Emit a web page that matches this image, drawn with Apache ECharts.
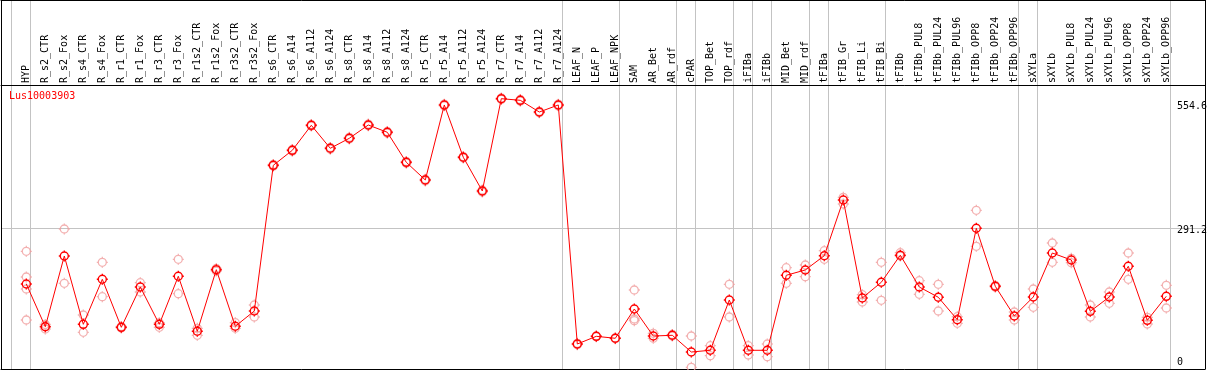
<!DOCTYPE html>
<html>
<head>
<meta charset="utf-8">
<script src="https://cdn.jsdelivr.net/npm/echarts@6/dist/echarts.min.js"></script>
<style>
  html, body { margin: 0; padding: 0; background: #fff; }
  #chart { width: 1209px; height: 370px; }
</style>
</head>
<body>
<div id="chart"></div>
<script>
// ---------------- data ----------------
const geneName = 'Lus10003903';

const categories = [
  'HYP', 'R_s2_CTR', 'R_s2_Fox', 'R_s4_CTR', 'R_s4_Fox', 'R_r1_CTR', 'R_r1_Fox', 'R_r3_CTR', 'R_r3_Fox',
  'R_r1s2_CTR', 'R_r1s2_Fox', 'R_r3s2_CTR', 'R_r3s2_Fox', 'R_s6_CTR', 'R_s6_A14', 'R_s6_A112', 'R_s6_A124',
  'R_s8_CTR', 'R_s8_A14', 'R_s8_A112', 'R_s8_A124', 'R_r5_CTR', 'R_r5_A14', 'R_r5_A112', 'R_r5_A124',
  'R_r7_CTR', 'R_r7_A14', 'R_r7_A112', 'R_r7_A124', 'LEAF_N', 'LEAF_P', 'LEAF_NPK', 'SAM', 'AR_Bet', 'AR_rdf',
  'cPAR', 'TOP_Bet', 'TOP_rdf', 'iFIBa', 'iFIBb', 'MID_Bet', 'MID_rdf', 'tFIBa', 'tFIB_Gr', 'tFIB_Li', 'tFIB_Bi',
  'tFIBb', 'tFIBb_PUL8', 'tFIBb_PUL24', 'tFIBb_PUL96', 'tFIBb_OPP8', 'tFIBb_OPP24', 'tFIBb_OPP96',
  'sXYLa', 'sXYLb', 'sXYLb_PUL8', 'sXYLb_PUL24', 'sXYLb_PUL96', 'sXYLb_OPP8', 'sXYLb_OPP24', 'sXYLb_OPP96'
];

const meanValues = [
  178.0, 91.2, 234.9, 96.1, 187.6, 90.0, 171.9, 96.1, 193.7, 81.9, 207.1, 92.1, 123.1,
  419.2, 449.7, 500.5, 453.8, 474.1, 501.1, 486.3, 425.3, 389.4, 541.8, 435.5, 367.0, 554.6, 551.3, 527.5, 541.8,
  56.1, 71.7, 67.7, 127.2, 72.3, 73.8, 39.8, 43.3, 145.5, 43.3, 43.3, 195.7, 206.5, 235.5, 348.7, 149.6, 181.5,
  236.5, 171.9, 151.0, 105.5, 291.2, 173.3, 113.0, 151.6, 241.0, 226.8, 122.5, 151.6, 214.0, 104.2, 153.0
];

const replicateValues = [
  [244.5, 192.2, 167.9, 104.9], [95.7, 91.6, 86.6], [289.8, 179.4], [115.0, 79.9], [222.1, 152.2],
  [91.6, 88.6], [180.7, 161.8], [99.4, 90.0], [228.2, 158.3], [88.0, 73.8], [209.5, 204.4],
  [99.4, 88.0], [135.3, 111.0],
  [421.0, 417.5], [451.5, 448.0], [502.0, 499.0], [455.5, 452.0], [476.0, 472.5], [503.0, 499.5],
  [488.0, 484.5], [427.0, 423.5], [391.0, 387.5], [543.5, 540.0], [437.0, 434.0], [369.0, 365.0],
  [556.0, 553.0], [553.0, 549.5], [529.0, 526.0], [543.5, 540.0],
  [57.5, 54.8], [72.5, 70.9], [68.5, 66.9], [165.8, 106.9, 103.4], [77.8, 67.7], [75.4, 72.3],
  [72.3, 8.7], [52.6, 32.3], [177.4, 111.0], [52.6, 33.7], [56.1, 30.3], [211.1, 179.4], [216.6, 192.8],
  [245.7, 228.2], [354.2, 340.6], [156.3, 141.4], [222.1, 144.9],
  [241.6, 234.9], [184.7, 157.1], [177.4, 123.1], [111.6, 98.2], [327.8, 254.6], [175.0, 171.5],
  [121.1, 104.9], [167.9, 130.7], [261.3, 222.1], [230.2, 221.3], [135.3, 111.0], [161.8, 138.8],
  [241.0, 187.6], [110.3, 96.7], [175.4, 129.2]
];

// last sample index of each sample group (group separators)
const groupEnds = [0, 28, 31, 34, 35, 37, 38, 39, 41, 42, 45, 52, 53, 60];

const yTickValues = [0, 291.2, 554.6];
const yTickLabels = ['0', '291.2', '554.6'];
const yGridValues = [291.2];

// ---------------- layout / style ----------------
const X_MIN = -1.3316, X_MAX = 62.037;
const Y_MIN = 0, Y_MAX = 582.4;
const SEP_OFFSET = 0.22;
const FONT = "'DejaVu Sans Mono', 'Liberation Mono', monospace";
const RED = '#ff0000';
const PINK = '#f09c9c';
const GRAY = '#c3c3c3';

const separators = [-1].concat(groupEnds).map(i => i + SEP_OFFSET);
const catIndex = categories.map((_, i) => i);
const meanData = meanValues.map((v, i) => [i, v]);
const repData = [];
replicateValues.forEach((arr, i) => arr.forEach(v => repData.push([i, v])));

const markerPath = 'path://M1.5,5.5 A4,4 0 1 1 9.5,5.5 A4,4 0 1 1 1.5,5.5 Z ' +
  'M5.5,0 L5.5,1.5 M5.5,9.5 L5.5,11 M0,5.5 L1.5,5.5 M9.5,5.5 L11,5.5';

const labelPads = [[0, 0, 19, 0], [5, 0, 0, 0], [16, 0, 0, 0]];
const rich = {};
labelPads.forEach((p, k) => {
  rich['s' + k] = { fontFamily: FONT, fontSize: 10, color: '#000', padding: p };
});

const chart = echarts.init(document.getElementById('chart'), null, { renderer: 'canvas' });
chart.setOption({
  animation: false,
  backgroundColor: '#fff',
  title: {
    text: geneName, left: 9, top: 91, padding: 0,
    textStyle: { color: RED, fontSize: 10, fontWeight: 'normal', fontFamily: FONT }
  },
  grid: [
    { left: 1, right: 4, top: 0, height: 369, outerBoundsMode: 'none', containLabel: false },
    { left: 1, right: 4, top: 85, height: 286.6, outerBoundsMode: 'none', containLabel: false }
  ],
  xAxis: [
    { // frame bottom + separators
      type: 'value', gridIndex: 0, min: X_MIN, max: X_MAX, position: 'bottom',
      axisLine: { show: true, onZero: false, lineStyle: { color: '#000', width: 1 } },
      axisTick: { show: false, customValues: separators },
      axisLabel: { show: false },
      splitLine: { show: true, lineStyle: { color: GRAY, width: 1 } }
    },
    { // frame top
      type: 'value', gridIndex: 0, min: X_MIN, max: X_MAX, position: 'top',
      axisLine: { show: true, onZero: false, lineStyle: { color: '#000', width: 1 } },
      axisTick: { show: false }, axisLabel: { show: false }, splitLine: { show: false }
    },
    { // category labels
      type: 'value', gridIndex: 1, min: X_MIN, max: X_MAX, position: 'top',
      axisLine: { show: true, onZero: false, lineStyle: { color: '#000', width: 1 } },
      axisTick: { show: false, customValues: catIndex },
      splitLine: { show: false },
      axisLabel: {
        customValues: catIndex, rotate: -90, margin: 2,
        fontFamily: FONT, fontSize: 10, color: '#000',
        formatter: v => categories[Math.round(v)] || ''
      }
    }
  ],
  yAxis: [
    {
      type: 'value', gridIndex: 0, min: 0, max: 1, position: 'left',
      axisLine: { show: true, onZero: false, lineStyle: { color: '#000', width: 1 } },
      axisTick: { show: false }, axisLabel: { show: false }, splitLine: { show: false }
    },
    {
      type: 'value', gridIndex: 0, min: 0, max: 1, position: 'right',
      axisLine: { show: true, onZero: false, lineStyle: { color: '#000', width: 1 } },
      axisTick: { show: false }, axisLabel: { show: false }, splitLine: { show: false }
    },
    {
      type: 'value', gridIndex: 1, min: Y_MIN, max: Y_MAX, position: 'right',
      axisLine: { show: false },
      axisTick: { show: false, customValues: yGridValues },
      splitLine: { show: true, lineStyle: { color: GRAY, width: 1 } },
      axisLabel: {
        customValues: yTickValues, margin: -28, align: 'left',
        fontFamily: FONT, fontSize: 10, color: '#000',
        formatter: v => {
          const k = yTickValues.findIndex(t => Math.abs(t - v) < 1e-6);
          return k < 0 ? '' : '{s' + k + '|' + yTickLabels[k] + '}';
        },
        rich: rich
      }
    }
  ],
  series: [
    {
      name: 'replicates', type: 'scatter', xAxisIndex: 2, yAxisIndex: 2,
      data: repData, symbol: markerPath, symbolSize: 11, z: 2, silent: true,
      itemStyle: { color: 'rgba(0,0,0,0)', borderColor: PINK, borderWidth: 1.3 }
    },
    {
      name: 'mean', type: 'line', xAxisIndex: 2, yAxisIndex: 2,
      data: meanData, symbol: markerPath, symbolSize: 11, showAllSymbol: true, z: 3, silent: true,
      lineStyle: { color: RED, width: 1 },
      itemStyle: { color: 'rgba(0,0,0,0)', borderColor: RED, borderWidth: 1.4 }
    }
  ]
});
</script>
</body>
</html>
